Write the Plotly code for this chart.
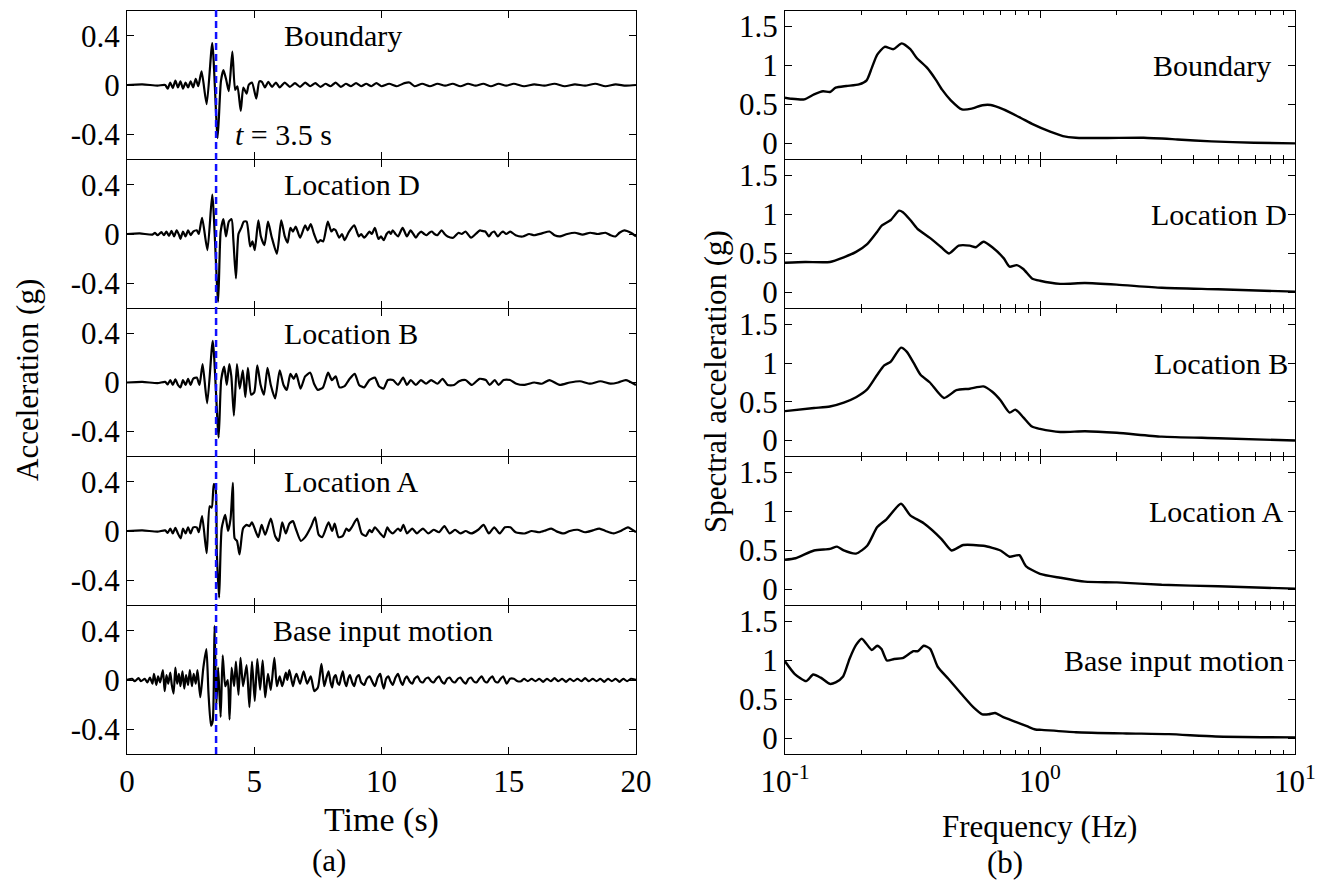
import plotly.graph_objects as go

# ---------------- data ----------------
panel_names = ["Boundary", "Location D", "Location B", "Location A", "Base input motion"]

acc_boundary = [(0,0),(0.6,0.005),(1.2,-0.005),(1.5,0.0),(1.6,-0.03),(1.7,0.02),(1.8,-0.025),(1.9,0.035),(2.0,-0.02),(2.1,0.03),(2.2,-0.03),(2.3,0.02),(2.4,-0.02),(2.5,0.03),(2.6,-0.02),(2.7,0.05),(2.8,-0.01),(2.93,0.11),(3.13,-0.155),(3.35,0.34),(3.56,-0.43),(3.69,0.03),(3.79,0.12),(3.9,0.04),(4.0,-0.05),(4.14,0.27),(4.25,-0.04),(4.34,-0.01),(4.47,-0.21),(4.57,-0.02),(4.7,-0.07),(4.78,0.0),(4.91,0.02),(5.08,-0.11),(5.2,0.03),(5.3,0.025),(5.42,-0.02),(5.55,0.025),(5.7,-0.015),(5.85,0.02),(6.0,-0.02),(6.2,0.02),(6.4,-0.015),(6.6,0.015),(6.8,-0.015),(7.0,0.02),(7.2,-0.01),(7.4,0.015),(7.6,-0.015),(7.8,0.01),(8.0,-0.01),(8.2,0.02),(8.4,-0.015),(8.6,0.01),(8.8,-0.01),(9.0,0.015),(9.2,-0.01),(9.4,0.01),(9.6,-0.01),(9.8,0.015),(10.0,-0.01),(10.3,0.01),(10.6,-0.01),(10.9,0.015),(11.1,0.02),(11.3,-0.01),(11.6,0.01),(11.9,-0.01),(12.2,0.01),(12.5,-0.005),(12.8,0.01),(13.1,-0.01),(13.4,0.01),(13.7,-0.005),(14.0,0.01),(14.3,-0.01),(14.6,0.01),(14.9,-0.005),(15.2,0.01),(15.6,-0.01),(16.0,0.005),(16.4,-0.005),(16.8,0.01),(17.2,-0.01),(17.6,0.005),(18.0,-0.005),(18.4,0.01),(18.8,-0.01),(19.2,0.005),(19.6,-0.005),(20.0,0.0)]

acc_loc_d = [(0,0),(0.5,0.005),(1.0,-0.005),(1.1,0.01),(1.2,-0.01),(1.35,0.015),(1.45,-0.01),(1.55,0.02),(1.65,-0.015),(1.75,0.025),(1.85,-0.02),(1.95,0.03),(2.05,-0.01),(2.1,-0.04),(2.2,0.02),(2.3,-0.02),(2.4,0.03),(2.5,-0.01),(2.6,0.02),(2.74,0.03),(2.82,0.0),(2.95,0.13),(3.16,-0.13),(3.35,0.32),(3.58,-0.55),(3.68,0.02),(3.79,0.12),(3.89,-0.02),(4.0,0.1),(4.11,0.12),(4.18,-0.05),(4.28,-0.36),(4.38,0.0),(4.49,0.05),(4.59,0.1),(4.7,0.1),(4.84,-0.1),(4.93,-0.06),(5.02,-0.13),(5.16,0.11),(5.26,-0.02),(5.4,-0.09),(5.54,0.1),(5.68,-0.02),(5.89,-0.16),(6.06,0.11),(6.2,-0.02),(6.31,-0.07),(6.42,0.05),(6.52,0.02),(6.63,0.06),(6.8,-0.03),(7.0,0.07),(7.1,0.03),(7.22,0.08),(7.35,0.0),(7.5,-0.07),(7.6,-0.05),(7.71,-0.06),(7.89,0.1),(8.03,0.02),(8.12,0.04),(8.2,0.03),(8.34,-0.03),(8.45,0.0),(8.55,-0.05),(8.7,0.01),(8.76,0.03),(8.93,0.07),(9.11,-0.02),(9.2,0.0),(9.32,-0.03),(9.45,0.0),(9.53,0.02),(9.62,0.0),(9.74,0.05),(9.88,-0.04),(9.98,-0.02),(10.09,-0.05),(10.2,0.0),(10.3,0.02),(10.37,0.0),(10.44,0.03),(10.55,0.0),(10.65,-0.02),(10.83,0.05),(11.0,-0.02),(11.14,0.03),(11.25,0.0),(11.35,-0.03),(11.45,0.0),(11.56,0.02),(11.68,0.0),(11.77,-0.01),(11.88,0.01),(11.98,0.02),(12.08,0.0),(12.19,-0.01),(12.36,0.03),(12.48,0.0),(12.6,-0.02),(12.82,-0.03),(13.03,0.01),(13.15,0.0),(13.3,0.02),(13.52,-0.03),(13.7,0.0),(13.87,0.03),(13.95,0.025),(14.08,0.02),(14.22,-0.02),(14.33,0.01),(14.43,0.02),(14.57,-0.02),(14.7,0.01),(14.78,0.02),(14.9,0.0),(15.06,0.02),(15.27,-0.01),(15.55,-0.02),(15.8,0.0),(16.0,-0.01),(16.3,0.005),(16.6,0.02),(16.8,-0.01),(17.0,-0.02),(17.3,0.0),(17.6,0.01),(17.9,-0.005),(18.2,0.01),(18.5,0.0),(18.8,0.01),(19.0,-0.01),(19.19,-0.02),(19.35,0.01),(19.54,0.03),(19.8,0.01),(20.0,-0.02)]

acc_loc_b = [(0,0),(0.6,0.005),(1.2,-0.005),(1.5,0.005),(1.6,-0.015),(1.7,0.02),(1.8,-0.02),(1.9,0.025),(2.0,-0.02),(2.1,-0.04),(2.2,0.02),(2.3,-0.02),(2.4,0.03),(2.5,-0.02),(2.6,0.03),(2.74,0.04),(2.85,-0.02),(2.97,0.15),(3.15,-0.17),(3.37,0.34),(3.6,-0.45),(3.7,0.02),(3.82,0.13),(3.92,-0.02),(4.02,0.15),(4.1,0.05),(4.2,-0.27),(4.32,0.15),(4.43,-0.05),(4.55,0.1),(4.65,-0.12),(4.75,0.12),(4.88,-0.1),(5.0,-0.08),(5.12,0.14),(5.25,-0.02),(5.38,-0.1),(5.52,0.12),(5.65,-0.02),(5.82,-0.13),(6.0,0.1),(6.15,-0.02),(6.28,-0.06),(6.42,0.07),(6.55,0.03),(6.65,0.07),(6.82,-0.05),(7.0,0.05),(7.2,0.08),(7.35,-0.01),(7.5,-0.06),(7.7,-0.04),(7.9,0.08),(8.05,0.02),(8.2,0.05),(8.35,-0.04),(8.55,-0.03),(8.75,0.03),(8.95,0.07),(9.12,-0.02),(9.32,-0.04),(9.52,0.02),(9.74,0.04),(9.9,-0.03),(10.08,-0.05),(10.25,0.02),(10.45,0.02),(10.65,-0.02),(10.85,0.04),(11.0,-0.02),(11.15,0.02),(11.35,-0.02),(11.55,0.02),(11.75,-0.01),(11.95,0.02),(12.2,-0.01),(12.4,0.03),(12.6,-0.02),(12.85,-0.02),(13.05,0.01),(13.3,0.02),(13.55,-0.02),(13.85,0.03),(14.1,0.02),(14.25,-0.02),(14.45,0.02),(14.6,-0.02),(14.8,0.02),(15.05,0.02),(15.3,-0.01),(15.6,-0.02),(16.0,0.0),(16.3,-0.01),(16.6,0.02),(17.0,-0.02),(17.4,0.0),(17.8,0.01),(18.2,-0.01),(18.6,0.01),(19.0,-0.01),(19.3,0.0),(19.6,0.02),(20.0,-0.02)]

acc_loc_a = [(0,0),(0.6,0.005),(1.2,-0.005),(1.5,0.005),(1.6,-0.015),(1.7,0.02),(1.8,-0.02),(1.9,0.025),(2.0,-0.02),(2.11,-0.06),(2.2,0.02),(2.3,-0.02),(2.4,0.03),(2.5,-0.02),(2.6,0.03),(2.74,0.03),(2.82,-0.01),(2.95,0.12),(3.13,-0.18),(3.25,0.2),(3.33,0.19),(3.41,0.38),(3.48,0.35),(3.53,-0.18),(3.62,-0.54),(3.72,0.02),(3.86,0.13),(3.97,0.0),(4.07,0.1),(4.16,0.39),(4.23,-0.06),(4.32,-0.08),(4.42,-0.19),(4.56,0.02),(4.7,0.05),(4.81,0.04),(4.91,0.07),(5.05,0.0),(5.16,-0.05),(5.29,0.05),(5.43,-0.03),(5.65,0.1),(5.82,-0.04),(5.96,-0.08),(6.1,0.07),(6.24,-0.02),(6.38,0.06),(6.52,0.08),(6.63,0.02),(6.83,-0.08),(7.0,-0.05),(7.22,0.03),(7.39,0.11),(7.53,-0.03),(7.67,-0.05),(7.92,0.07),(8.06,0.0),(8.16,0.06),(8.31,-0.05),(8.48,-0.04),(8.62,0.02),(8.72,0.0),(8.83,0.03),(9.04,0.1),(9.22,-0.02),(9.39,-0.04),(9.53,0.01),(9.62,-0.01),(9.74,0.03),(9.95,-0.02),(10.09,-0.05),(10.23,0.03),(10.32,0.0),(10.44,-0.02),(10.65,0.02),(10.75,0.0),(10.86,0.05),(11.0,-0.02),(11.1,0.0),(11.21,0.02),(11.39,-0.02),(11.5,0.0),(11.63,0.02),(11.84,-0.02),(12.05,0.01),(12.26,-0.01),(12.47,0.04),(12.68,-0.02),(12.89,0.01),(13.1,-0.02),(13.31,0.0),(13.52,-0.02),(13.8,0.01),(14.01,0.05),(14.22,-0.02),(14.43,0.03),(14.64,-0.02),(14.85,0.03),(15.06,0.03),(15.27,-0.01),(15.62,-0.02),(15.9,0.0),(16.2,-0.01),(16.45,0.005),(16.67,0.02),(16.9,-0.005),(17.16,-0.02),(17.4,0.0),(17.7,0.01),(18.0,-0.01),(18.3,0.005),(18.56,0.02),(18.8,0.0),(19.12,-0.02),(19.4,0.0),(19.68,0.03),(20.0,-0.01)]

acc_base = [(0,0),(0.2,0.01),(0.3,-0.01),(0.45,0.015),(0.55,-0.01),(0.7,0.01),(0.8,-0.02),(0.9,0.02),(1.0,-0.03),(1.06,0.05),(1.15,-0.04),(1.22,0.03),(1.3,-0.02),(1.41,0.08),(1.48,-0.09),(1.55,0.04),(1.62,-0.03),(1.7,0.06),(1.76,-0.04),(1.83,-0.11),(1.9,0.1),(1.97,-0.03),(2.04,0.05),(2.1,-0.05),(2.18,0.07),(2.25,-0.07),(2.32,0.04),(2.4,-0.04),(2.47,0.08),(2.55,-0.05),(2.62,0.05),(2.7,-0.03),(2.77,0.08),(2.88,-0.14),(3.0,0.1),(3.12,0.25),(3.2,-0.1),(3.3,-0.37),(3.37,-0.33),(3.44,0.44),(3.51,-0.2),(3.58,0.1),(3.68,-0.3),(3.76,0.2),(3.86,-0.05),(3.96,0.0),(4.03,-0.32),(4.11,0.1),(4.21,-0.05),(4.28,0.15),(4.38,-0.12),(4.46,0.18),(4.56,-0.05),(4.7,0.12),(4.81,-0.22),(4.91,0.15),(5.02,-0.17),(5.12,0.17),(5.23,-0.08),(5.33,0.16),(5.43,-0.14),(5.54,0.05),(5.65,-0.08),(5.79,0.18),(5.89,-0.05),(6.0,0.03),(6.1,-0.05),(6.24,0.06),(6.3,0.0),(6.38,0.08),(6.52,-0.05),(6.6,0.02),(6.66,0.05),(6.8,-0.03),(6.94,0.07),(7.08,-0.03),(7.22,0.03),(7.36,-0.09),(7.5,-0.06),(7.64,0.13),(7.75,-0.05),(7.84,0.02),(7.92,0.07),(8.0,-0.02),(8.06,-0.06),(8.13,0.02),(8.2,0.04),(8.27,-0.02),(8.34,-0.04),(8.41,0.02),(8.48,0.07),(8.55,-0.01),(8.62,-0.05),(8.69,0.01),(8.76,0.04),(8.85,-0.02),(8.93,-0.05),(9.02,0.02),(9.11,0.04),(9.2,-0.02),(9.32,-0.04),(9.42,0.01),(9.53,0.03),(9.63,-0.01),(9.74,-0.05),(9.85,0.02),(9.95,0.05),(10.02,-0.02),(10.09,-0.07),(10.18,0.01),(10.27,0.03),(10.35,-0.01),(10.44,-0.04),(10.55,0.02),(10.65,0.05),(10.75,-0.01),(10.83,-0.04),(10.92,0.01),(11.0,0.03),(11.1,-0.01),(11.21,-0.03),(11.3,0.01),(11.42,0.03),(11.52,-0.01),(11.63,-0.02),(11.73,0.01),(11.84,0.02),(11.95,-0.01),(12.05,-0.02),(12.15,0.01),(12.26,0.03),(12.36,-0.01),(12.47,-0.03),(12.58,0.01),(12.68,0.02),(12.78,-0.01),(12.89,-0.02),(13.0,0.01),(13.1,0.02),(13.2,-0.01),(13.31,-0.03),(13.42,0.01),(13.52,0.02),(13.62,-0.01),(13.73,-0.02),(13.84,0.01),(13.94,0.03),(14.05,-0.01),(14.15,-0.02),(14.25,0.01),(14.36,0.03),(14.46,-0.01),(14.57,-0.02),(14.68,0.01),(14.78,0.03),(14.85,0.0),(14.92,-0.03),(15.05,0.01),(15.2,0.01),(15.35,-0.01),(15.48,-0.01),(15.6,0.01),(15.75,-0.01),(15.9,0.01),(16.05,-0.01),(16.2,0.01),(16.35,-0.015),(16.5,0.01),(16.65,-0.01),(16.8,0.015),(16.95,-0.01),(17.1,0.01),(17.25,-0.015),(17.4,0.01),(17.55,-0.01),(17.7,0.01),(17.85,-0.01),(18.0,0.015),(18.15,-0.01),(18.3,0.01),(18.45,-0.01),(18.6,0.01),(18.75,-0.015),(18.9,0.01),(19.05,-0.01),(19.2,0.01),(19.35,-0.015),(19.5,0.01),(19.65,-0.01),(19.8,0.01),(20.0,0.0)]

sa_boundary = [(0.1,0.587),(0.106,0.574),(0.119,0.566),(0.130,0.63),(0.141,0.67),(0.150,0.66),(0.158,0.715),(0.174,0.737),(0.195,0.758),(0.209,0.81),(0.219,0.97),(0.230,1.14),(0.246,1.24),(0.266,1.21),(0.287,1.285),(0.310,1.21),(0.328,1.10),(0.361,0.97),(0.390,0.82),(0.413,0.69),(0.446,0.557),(0.494,0.437),(0.540,0.446),(0.594,0.49),(0.641,0.493),(0.719,0.437),(0.838,0.33),(0.940,0.244),(1.096,0.15),(1.23,0.094),(1.38,0.073),(1.80,0.069),(2.55,0.073),(3.46,0.051),(4.70,0.026),(6.9,0.009),(10,0.0)]

sa_loc_d = [(0.1,0.38),(0.12,0.39),(0.15,0.39),(0.17,0.45),(0.19,0.52),(0.21,0.62),(0.23,0.78),(0.24,0.86),(0.26,0.93),(0.28,1.05),(0.29,1.03),(0.31,0.93),(0.33,0.82),(0.37,0.7),(0.41,0.58),(0.44,0.5),(0.48,0.6),(0.53,0.6),(0.56,0.58),(0.6,0.65),(0.65,0.58),(0.72,0.44),(0.76,0.33),(0.81,0.35),(0.86,0.3),(0.93,0.18),(1.0,0.15),(1.2,0.11),(1.5,0.12),(2.0,0.1),(3.0,0.06),(5.0,0.04),(10,0.01)]

sa_loc_b = [(0.1,0.38),(0.13,0.42),(0.15,0.44),(0.17,0.49),(0.19,0.56),(0.21,0.66),(0.23,0.85),(0.245,0.97),(0.26,1.02),(0.285,1.2),(0.3,1.15),(0.32,1.0),(0.34,0.85),(0.37,0.75),(0.42,0.55),(0.47,0.65),(0.53,0.67),(0.6,0.7),(0.65,0.63),(0.7,0.52),(0.76,0.36),(0.8,0.4),(0.86,0.3),(0.93,0.18),(1.0,0.15),(1.2,0.11),(1.5,0.12),(2.0,0.1),(3.0,0.05),(5.0,0.03),(10,0.0)]

sa_loc_a = [(0.1,0.38),(0.11,0.4),(0.13,0.5),(0.15,0.52),(0.16,0.55),(0.17,0.5),(0.19,0.46),(0.21,0.56),(0.23,0.8),(0.25,0.9),(0.285,1.1),(0.31,0.95),(0.35,0.85),(0.41,0.65),(0.45,0.5),(0.5,0.57),(0.6,0.56),(0.7,0.5),(0.76,0.42),(0.83,0.44),(0.88,0.3),(1.0,0.2),(1.2,0.15),(1.5,0.1),(2.0,0.09),(3.0,0.06),(5.0,0.04),(10,0.01)]

sa_base = [(0.1,0.99),(0.109,0.83),(0.121,0.735),(0.129,0.82),(0.138,0.78),(0.150,0.70),(0.158,0.72),(0.169,0.795),(0.179,1.02),(0.190,1.20),(0.200,1.28),(0.219,1.135),(0.230,1.19),(0.239,1.147),(0.251,1.0),(0.268,1.02),(0.289,1.03),(0.319,1.12),(0.332,1.12),(0.350,1.19),(0.371,1.15),(0.397,0.92),(0.437,0.765),(0.491,0.574),(0.550,0.395),(0.594,0.31),(0.629,0.31),(0.667,0.327),(0.714,0.276),(0.807,0.21),(0.888,0.157),(0.959,0.115),(1.016,0.11),(1.38,0.08),(2.18,0.064),(3.2,0.055),(4.88,0.025),(10,0.013)]

acc_series = [acc_boundary, acc_loc_d, acc_loc_b, acc_loc_a, acc_base]
sa_series = [sa_boundary, sa_loc_d, sa_loc_b, sa_loc_a, sa_base]

time_ticks = [0, 5, 10, 15, 20]
acc_ticks = [-0.4, 0, 0.4]
acc_tick_text = ["-0.4", "0", "0.4"]
sa_ticks = [0, 0.5, 1, 1.5]
sa_tick_text = ["0", "0.5", "1", "1.5"]
freq_ticks = [0.1, 1, 10]
freq_tick_text = ["10<sup>-1</sup>", "10<sup>0</sup>", "10<sup>1</sup>"]
freq_minor = [0.2, 0.3, 0.4, 0.5, 0.6, 0.7, 0.8, 0.9, 2, 3, 4, 5, 6, 7, 8, 9]
event_time = 3.5

left_label_x = [6.1, 6.1, 6.1, 6.1, 5.65]
right_label_x = [0.915, 0.975, 0.98, 0.96, 0.965]

# ---------------- layout ----------------
W, H = 1324, 882
FONT = "Liberation Serif"
TICKF = dict(family=FONT, size=31, color="black")
LW = 1

# pixel rows/cols where the frame lines sit
line_rows = [10, 159, 308, 456, 605, 754]
left_cols = (126, 636)
right_cols = (784, 1295)

def xdom(cols):
    return [(cols[0] + 1) / W, cols[1] / W]

fig = go.Figure()
layout = dict(width=W, height=H, margin=dict(l=0, r=0, t=0, b=0, autoexpand=False),
              plot_bgcolor="white", paper_bgcolor="white", showlegend=False,
              font=dict(family=FONT, color="black"))

annotations = []
for i in range(5):
    ptop = line_rows[i] + 1
    pbot = line_rows[i + 1]
    ydom = [1 - pbot / H, 1 - ptop / H]
    nl = i + 1
    nr = i + 6
    last = (i == 4)

    t = [p[0] for p in acc_series[i]]
    a = [p[1] for p in acc_series[i]]
    fig.add_trace(go.Scatter(x=t, y=a, mode="lines",
                             line=dict(color="black", width=2.2, shape="spline", smoothing=0.6),
                             xaxis=f"x{nl}", yaxis=f"y{nl}", hoverinfo="skip"))
    f = [p[0] for p in sa_series[i]]
    s = [p[1] for p in sa_series[i]]
    fig.add_trace(go.Scatter(x=f, y=s, mode="lines",
                             line=dict(color="black", width=2.4, shape="spline", smoothing=0.6),
                             xaxis=f"x{nr}", yaxis=f"y{nr}", hoverinfo="skip"))

    common = dict(showline=True, linecolor="black", linewidth=LW, mirror="ticks",
                  ticks="inside", tickcolor="black", tickwidth=1, showgrid=False,
                  zeroline=False, tickfont=TICKF, automargin=False)
    layout[f"xaxis{nl}"] = dict(common, domain=xdom(left_cols), anchor=f"y{nl}", range=[0, 20],
                                tickmode="array", tickvals=time_ticks, ticklen=7,
                                showticklabels=last)
    layout[f"yaxis{nl}"] = dict(common, domain=ydom, anchor=f"x{nl}", range=[-0.6, 0.6],
                                tickmode="array", tickvals=acc_ticks, ticktext=acc_tick_text, ticklen=7)
    layout[f"xaxis{nr}"] = dict(common, domain=xdom(right_cols), anchor=f"y{nr}", type="log", range=[-1, 1],
                                tickmode="array", tickvals=freq_ticks, ticktext=freq_tick_text, ticklen=7,
                                showticklabels=last,
                                minor=dict(tickmode="array", tickvals=freq_minor, ticks="inside",
                                           ticklen=4, tickcolor="black", tickwidth=1))
    layout[f"yaxis{nr}"] = dict(common, domain=ydom, anchor=f"x{nr}", range=[-0.2, 1.7],
                                tickmode="array", tickvals=sa_ticks, ticktext=sa_tick_text, ticklen=7)

    annotations.append(dict(text=panel_names[i], x=left_label_x[i], y=0.4, xref=f"x{nl}", yref=f"y{nl}",
                            xanchor="left", yanchor="middle", showarrow=False,
                            font=dict(family=FONT, size=30, color="black")))
    annotations.append(dict(text=panel_names[i], x=right_label_x[i], y=1.0, xref=f"x{nr}", yref=f"y{nr}",
                            xanchor="right", yanchor="middle", showarrow=False,
                            font=dict(family=FONT, size=30, color="black")))

annotations.append(dict(text="<i>t</i> = 3.5 s", x=4.15, y=-0.4, xref="x1", yref="y1",
                        xanchor="left", yanchor="middle", showarrow=False,
                        font=dict(family=FONT, size=30, color="black")))
annotations.append(dict(text="Acceleration (g)", x=28 / W, y=1 - 380 / H, xref="paper", yref="paper",
                        textangle=-90, showarrow=False, xanchor="center", yanchor="middle",
                        font=dict(family=FONT, size=31, color="black")))
annotations.append(dict(text="Spectral acceleration (g)", x=715 / W, y=1 - 382 / H, xref="paper", yref="paper",
                        textangle=-90, showarrow=False, xanchor="center", yanchor="middle",
                        font=dict(family=FONT, size=31, color="black")))
annotations.append(dict(text="Time (s)", x=381 / W, y=1 - 820 / H, xref="paper", yref="paper",
                        showarrow=False, xanchor="center", yanchor="middle",
                        font=dict(family=FONT, size=34, color="black")))
annotations.append(dict(text="Frequency (Hz)", x=1039 / W, y=1 - 826 / H, xref="paper", yref="paper",
                        showarrow=False, xanchor="center", yanchor="middle",
                        font=dict(family=FONT, size=31, color="black")))
annotations.append(dict(text="(a)", x=329 / W, y=1 - 860 / H, xref="paper", yref="paper",
                        showarrow=False, xanchor="center", yanchor="middle",
                        font=dict(family=FONT, size=31, color="black")))
annotations.append(dict(text="(b)", x=1005 / W, y=1 - 862 / H, xref="paper", yref="paper",
                        showarrow=False, xanchor="center", yanchor="middle",
                        font=dict(family=FONT, size=31, color="black")))
layout["annotations"] = annotations

layout["shapes"] = [dict(type="line", xref="x5", yref="paper", x0=event_time, x1=event_time,
                         y0=1 - 754 / H, y1=1 - 10 / H,
                         line=dict(color="#1010ff", width=2.5, dash="7px,4px"))]

fig.update_layout(**layout)
fig.write_html("out.html")
